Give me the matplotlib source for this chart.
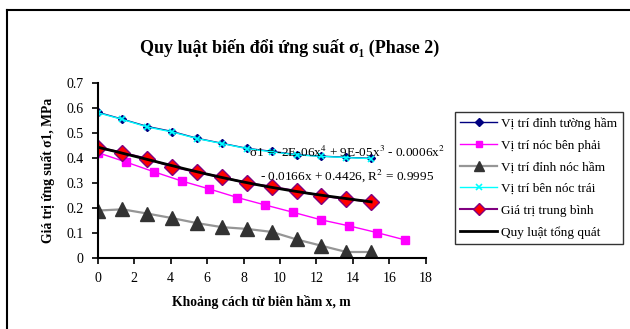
import numpy as np
import matplotlib
matplotlib.use("Agg")
import matplotlib.pyplot as plt
from matplotlib.lines import Line2D

plt.rcParams['font.family'] = ['Liberation Serif', 'DejaVu Serif']
plt.rcParams['mathtext.fontset'] = 'stix'

# ---------------- data ----------------
x_a = [0, 1.36, 2.73, 4.09, 5.45, 6.82, 8.18, 9.55, 10.91, 12.27, 13.64, 15.0]
x_b = [0, 1.53, 3.07, 4.6, 6.13, 7.66, 9.2, 10.73, 12.26, 13.79, 15.33, 16.86]

dinh_tuong = [0.582, 0.554, 0.525, 0.505, 0.478, 0.458, 0.438, 0.426, 0.413, 0.407, 0.402, 0.398]
noc_phai = [0.421, 0.384, 0.345, 0.308, 0.276, 0.242, 0.212, 0.183, 0.153, 0.129, 0.102, 0.073]
dinh_noc = [0.19, 0.195, 0.178, 0.16, 0.14, 0.124, 0.117, 0.105, 0.075, 0.05, 0.025, 0.025]
noc_trai = [0.580, 0.553, 0.523, 0.503, 0.477, 0.457, 0.437, 0.424, 0.412, 0.406, 0.401, 0.397]
trung_binh = [0.441, 0.421, 0.396, 0.365, 0.343, 0.323, 0.300, 0.285, 0.268, 0.249, 0.236, 0.226]

labels = ['Vị trí đỉnh tường hầm', 'Vị trí nóc bên phải', 'Vị trí đỉnh nóc hầm',
          'Vị trí bên nóc trái', 'Giá trị trung bình', 'Quy luật tổng quát']

# excel style 4th order trendline of the mean values
coef = np.polyfit(x_a, trung_binh, 4)
xf = np.linspace(0, 15, 200)
yf = np.polyval(coef, xf)

# ---------------- plotting ----------------
fig = plt.figure(figsize=(6.3, 3.29), dpi=100)
ax = fig.add_axes([0.155, 0.215, 0.521, 0.534])

ax.plot(x_a, dinh_tuong, color='#000080', lw=1, marker='D', ms=4, label=labels[0])
ax.plot(x_b, noc_phai, color='#FF00FF', lw=1, marker='s', ms=6, label=labels[1])
ax.plot(x_a, dinh_noc, color='#969696', lw=1.6, marker='^', ms=10,
        mfc='#333333', mec='#333333', label=labels[2])
ax.plot(x_a, noc_trai, color='#00FFFF', lw=1, marker='x', ms=4, mew=1.2, label=labels[3])
ax.plot(x_a, trung_binh, color='#800080', lw=1.5, marker='D', ms=8,
        mfc='#FF0000', mec='#800080', label=labels[4])
ax.plot(xf, yf, color='black', lw=2, label=labels[5])

ax.set_xlim(0, 18)
ax.set_ylim(0, 0.7)
ax.set_xticks(np.arange(0, 19, 2))
ax.set_yticks(np.arange(0, 0.71, 0.1))
ax.set_yticklabels(['0', '0.1', '0.2', '0.3', '0.4', '0.5', '0.6', '0.7'])
ax.spines['top'].set_visible(False)
ax.spines['right'].set_visible(False)
ax.spines['left'].set_linewidth(1.5)
ax.spines['bottom'].set_linewidth(1.5)
ax.tick_params(direction='out', length=4, width=1.2, labelsize=10, pad=6)
ax.set_xlabel('Khoảng cách từ biên hầm x, m', fontsize=9.8, fontweight='bold', labelpad=7)
ax.set_ylabel('Giá trị ứng suất σ1, MPa', fontsize=9.8, fontweight='bold', labelpad=8)

ax.text(13.7, 0.375, r'σ1 = -2E-06x$^4$ + 9E-05x$^3$ - 0.0006x$^2$' + '\n' +
        r'- 0.0166x + 0.4426, R$^2$ = 0.9995',
        ha='center', va='center', fontsize=9.5, linespacing=1.6)

fig.text(0.46, 0.855, 'Quy luật biến đổi ứng suất σ₁ (Phase 2)',
         ha='center', va='center', fontsize=13, fontweight='bold')

leg = fig.legend(loc='upper left', bbox_to_anchor=(455 / 630, 1 - 112 / 329),
                 fontsize=9.5, frameon=True, fancybox=False, handlelength=2.8,
                 borderpad=0.4, labelspacing=0.72, handletextpad=0.3, borderaxespad=0)
leg.get_frame().set_edgecolor('black')
leg.get_frame().set_linewidth(1)
for h, s in zip(leg.legend_handles, [4, 5, 7, 4, 6, 0]):
    h.set_markersize(s)

# chart area border (only left and top visible in the crop)
fig.add_artist(Line2D([7 / 630, 7 / 630], [0, 1 - 10 / 329], color='black', lw=1.5))
fig.add_artist(Line2D([7 / 630, 1], [1 - 10 / 329, 1 - 10 / 329], color='black', lw=1.5))

fig.savefig('out.png', dpi=100)
